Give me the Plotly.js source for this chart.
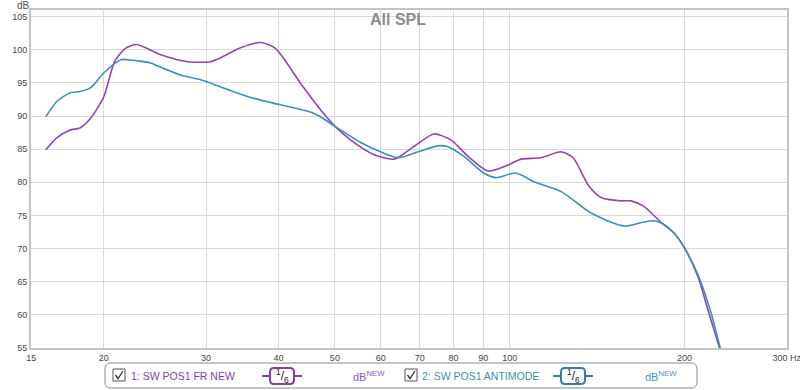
<!DOCTYPE html>
<html>
<head>
<meta charset="utf-8">
<script src="https://cdn.plot.ly/plotly-3.0.1.min.js"></script>
<style>html,body{margin:0;padding:0;background:#fff;}#chart{width:800px;height:390px;}</style>
</head>
<body>
<div id="chart"></div>
<script>
// ---- data ----
const frNewFreq = [15.9, 16.6, 17.5, 18.2, 19.0, 20.0, 20.9, 21.8, 22.8, 25.0, 27.9, 30.5, 31.8, 34.4, 37.3, 39.5, 43.6, 47.2, 50.1, 53.2, 58.3, 63.2, 68.4, 74.0, 79.2, 84.8, 91.8, 99.3, 104.6, 113, 122.7, 128.6, 136.5, 143.6, 155.4, 161.7, 170, 182, 191.6, 200, 211, 219.5, 231];
const frNewDb   = [84.9, 86.7, 87.9, 88.2, 89.7, 92.9, 98.3, 100.2, 100.8, 99.3, 98.2, 98.2, 98.8, 100.3, 101.1, 100.2, 95.0, 91.0, 88.4, 86.4, 84.2, 83.5, 85.4, 87.3, 86.4, 83.9, 81.7, 82.6, 83.5, 83.7, 84.6, 83.7, 79.6, 77.7, 77.2, 77.2, 76.4, 74.0, 72.4, 70.1, 65.7, 60.7, 54.3];

const antiFreq = [15.9, 16.6, 17.5, 18.2, 19.0, 20.0, 21.4, 22.0, 24.1, 24.7, 27.1, 29.3, 31.8, 35.8, 40.3, 45.4, 47.2, 50.1, 55.4, 59.9, 64.4, 69.5, 75.2, 78.1, 83.4, 90.2, 94.6, 102.5, 110, 122.7, 137.8, 157.3, 168, 177.4, 184.6, 191.6, 200, 211, 222, 231];
const antiDb   = [89.9, 92.2, 93.5, 93.7, 94.3, 96.5, 98.5, 98.5, 98.0, 97.6, 96.2, 95.5, 94.4, 92.8, 91.7, 90.6, 89.9, 88.4, 86.0, 84.6, 83.7, 84.6, 85.5, 85.4, 83.9, 81.4, 80.7, 81.4, 80.1, 78.6, 75.4, 73.4, 73.9, 74.2, 73.6, 72.4, 70.1, 66.0, 60.4, 54.6];

const xTickVals = [15, 20, 30, 40, 50, 60, 70, 80, 90, 100, 200, 300];
const xTickText = ["15", "20", "30", "40", "50", "60", "70", "80", "90", "100", "200", "300 Hz"];
const yTickVals = [55, 60, 65, 70, 75, 80, 85, 90, 95, 100, 105];

const seriesNames = ["1: SW POS1 FR NEW", "2: SW POS1 ANTIMODE"];

// ---- styling ----
const PURPLE = "#9342b8";
const BLUE = "#3b8fbf";
const PURPLE_TXT = "#8e3aae";
const BLUE_TXT = "#3f8db6";
const FONT = "Liberation Sans, Arial, sans-serif";

const W = 800, H = 390;
const M = {l: 31, r: 13, t: 10, b: 42};
const PW = W - M.l - M.r, PH = H - M.t - M.b;
const px = x => (x - M.l) / PW;          // pixel -> paper x
const py = y => (H - M.b - y) / PH;      // pixel -> paper y

function rrect(x0, y0, x1, y1, r) {
  const X0 = px(x0), X1 = px(x1), Y0 = py(y0), Y1 = py(y1);
  const rx = r / PW, ry = r / PH;
  return `M ${X0+rx},${Y0} L ${X1-rx},${Y0} Q ${X1},${Y0} ${X1},${Y0-ry} L ${X1},${Y1+ry} Q ${X1},${Y1} ${X1-rx},${Y1} L ${X0+rx},${Y1} Q ${X0},${Y1} ${X0},${Y1+ry} L ${X0},${Y0-ry} Q ${X0},${Y0} ${X0+rx},${Y0} Z`;
}
function seg(x0, y0, x1, y1, color, w) {
  return {type: "line", xref: "paper", yref: "paper", x0: px(x0), y0: py(y0), x1: px(x1), y1: py(y1), line: {color: color, width: w}};
}
function checkbox(x0) {
  const out = [];
  out.push({type: "rect", xref: "paper", yref: "paper", x0: px(x0), x1: px(x0 + 12), y0: py(381), y1: py(369), line: {color: "#555", width: 1}, fillcolor: "#fff"});
  out.push({type: "path", xref: "paper", yref: "paper",
    path: `M ${px(x0+2.5)},${py(375)} L ${px(x0+5)},${py(378.5)} L ${px(x0+10)},${py(371)}`,
    line: {color: "#333", width: 1.3}});
  return out;
}
function pill(x0, color) {
  const out = [];
  out.push(seg(x0, 376, x0 + 8, 376, color, 2));
  out.push({type: "path", xref: "paper", yref: "paper", path: rrect(x0 + 8, 368, x0 + 32, 384, 4), line: {color: color, width: 2}, fillcolor: "#fff"});
  out.push(seg(x0 + 32, 376, x0 + 40, 376, color, 2));
  return out;
}

const shapes = [
  {type: "path", xref: "paper", yref: "paper", path: rrect(105, 363, 697, 388, 6), line: {color: "#8a8a8a", width: 1}, fillcolor: "#fff"},
  ...checkbox(113), ...pill(262, PURPLE_TXT),
  ...checkbox(405), ...pill(553, "#2f7fa8")
];

function ann(x, y, text, color, size, anchor) {
  return {xref: "paper", yref: "paper", x: px(x), y: py(y), text: text, showarrow: false,
    xanchor: anchor || "left", yanchor: "middle", font: {family: FONT, size: size, color: color}};
}
const annotations = [
  ann(15, 5, "dB", "#555", 10, "left"),
  ann(129, 376, seriesNames[0], PURPLE_TXT, 10.5),
  ann(282, 376, "<sup>1</sup>/<sub>6</sub>", "#222", 12, "center"),
  ann(351, 376, "dB<sup>NEW</sup>", "#8a55c6", 11),
  ann(420, 376, seriesNames[1], BLUE_TXT, 10.5),
  ann(573, 376, "<sup>1</sup>/<sub>6</sub>", "#222", 12, "center"),
  ann(643, 376, "dB<sup>NEW</sup>", "#4a8fcc", 11)
];

const traces = [
  {x: frNewFreq, y: frNewDb, type: "scatter", mode: "lines", name: seriesNames[0],
   line: {color: PURPLE, width: 1.6, shape: "spline", smoothing: 0.7}},
  {x: antiFreq, y: antiDb, type: "scatter", mode: "lines", name: seriesNames[1],
   line: {color: BLUE, width: 1.6, shape: "spline", smoothing: 0.7}}
];

const layout = {
  width: W, height: H,
  margin: M,
  paper_bgcolor: "#fff", plot_bgcolor: "#fff",
  showlegend: false,
  font: {family: FONT, size: 9, color: "#444"},
  title: {text: "<b>All SPL</b>", x: 398 / W, xref: "container", xanchor: "center",
          y: 1 - 19 / H, yref: "container", yanchor: "middle",
          font: {family: FONT, size: 16, color: "#8c8c8c"}},
  xaxis: {type: "log", range: [Math.log10(15) - 0.0003, Math.log10(300) + 0.0003],
          tickvals: xTickVals, ticktext: xTickText, tickangle: 0, ticklabeloverflow: "allow",
          showgrid: true, gridcolor: "#d9d9d9", gridwidth: 1,
          showline: true, linecolor: "#c4c4c4", linewidth: 2, mirror: true,
          ticks: "", zeroline: false, tickfont: {size: 9, color: "#444"}},
  yaxis: {range: [55, 106], tickvals: yTickVals,
          showgrid: true, gridcolor: "#d9d9d9", gridwidth: 1,
          showline: true, linecolor: "#c4c4c4", linewidth: 2, mirror: true,
          ticks: "", zeroline: false, tickfont: {size: 9, color: "#444"}},
  shapes: shapes,
  annotations: annotations
};

Plotly.newPlot("chart", traces, layout, {displayModeBar: false, staticPlot: true});
</script>
</body>
</html>
